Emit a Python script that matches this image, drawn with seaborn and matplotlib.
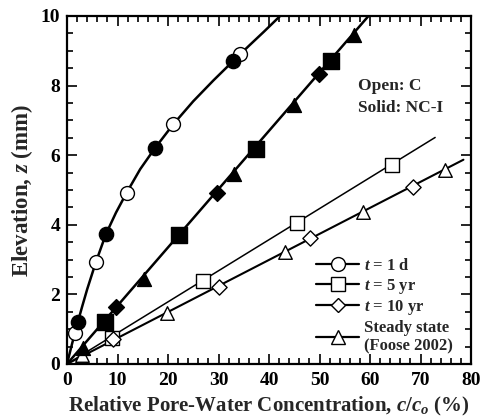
import numpy as np
import pandas as pd
import matplotlib
matplotlib.use("Agg")
import matplotlib.pyplot as plt
from matplotlib.lines import Line2D
from matplotlib.ticker import MultipleLocator
import seaborn as sns

sns.set_theme(style="ticks")
plt.rcParams['font.family'] = ['Liberation Serif', 'DejaVu Serif']
plt.rcParams['font.weight'] = 'bold'
plt.rcParams['mathtext.fontset'] = 'custom'
plt.rcParams['mathtext.it'] = 'Liberation Serif:italic:bold'
plt.rcParams['mathtext.rm'] = 'Liberation Serif:bold'
plt.rcParams['mathtext.bf'] = 'Liberation Serif:bold'

# ---- data ----
# Open symbols: C ; Solid symbols: NC-I
d1_open_x = [1.6, 5.7, 11.8, 21.05, 34.3]
d1_open_y = [0.88, 2.92, 4.92, 6.90, 8.90]
d1_solid_x = [2.1, 7.7, 17.4, 32.8]
d1_solid_y = [1.21, 3.73, 6.22, 8.72]

yr5_open_x = [8.9, 27.0, 45.5, 64.3]
yr5_open_y = [0.75, 2.39, 4.05, 5.72]
yr5_solid_x = [7.6, 22.2, 37.4, 52.3]
yr5_solid_y = [1.22, 3.71, 6.18, 8.72]

yr10_open_x = [9.2, 30.0, 48.2, 68.5]
yr10_open_y = [0.73, 2.21, 3.62, 5.10]
yr10_solid_x = [9.7, 29.7, 49.9]
yr10_solid_y = [1.64, 4.91, 8.33]

ss_open_x = [3.0, 19.8, 43.2, 58.7, 74.9]
ss_open_y = [0.27, 1.46, 3.21, 4.38, 5.58]
ss_solid_x = [3.1, 15.2, 33.0, 44.9, 56.9]
ss_solid_y = [0.46, 2.44, 5.46, 7.44, 9.45]

# model curves
curve1_x = [0, 1, 2, 3, 4, 5.7, 7.7, 9.7, 11.8, 14.5, 17.4, 21, 25, 29, 33, 36, 39, 42.2]
curve1_y = [0, 0.58, 1.13, 1.65, 2.15, 2.92, 3.73, 4.35, 4.92, 5.6, 6.2, 6.88, 7.55, 8.15, 8.72, 9.14, 9.55, 10.0]
curve_nc_x = [0, 59.7]
curve_nc_y = [0, 10.0]
curve_c5_x = [0, 72.9]
curve_c5_y = [0, 6.51]
curve_c10_x = [0, 78.5]
curve_c10_y = [0, 5.87]

x_ticks = [0, 10, 20, 30, 40, 50, 60, 70, 80]
y_ticks = [0, 2, 4, 6, 8, 10]

fig = plt.figure(figsize=(4.83, 4.17), dpi=100)
ax = fig.add_axes([67/483, 53/417, 404/483, 348/417])

def line(x, y, lw):
    sns.lineplot(x=x, y=y, ax=ax, sort=False, estimator=None, color='black',
                 linewidth=lw, zorder=2)

line(curve1_x, curve1_y, 1.8)
line(curve_nc_x, curve_nc_y, 1.8)
line(curve_c5_x, curve_c5_y, 1.1)
line(curve_c10_x, curve_c10_y, 1.5)

def pts(x, y, marker, size, filled):
    sns.scatterplot(x=x, y=y, ax=ax, marker=marker, s=size,
                    facecolor='black' if filled else 'white',
                    edgecolor='black', linewidth=1.0, zorder=4 if filled else 3)

pts(d1_open_x, d1_open_y, 'o', 100, False)
pts(d1_solid_x, d1_solid_y, 'o', 105, True)
pts(yr5_open_x, yr5_open_y, 's', 95, False)
pts(yr5_solid_x, yr5_solid_y, 's', 125, True)
pts(yr10_open_x, yr10_open_y, 'D', 60, False)
pts(yr10_solid_x, yr10_solid_y, 'D', 65, True)
pts(ss_open_x, ss_open_y, '^', 95, False)
pts(ss_solid_x, ss_solid_y, '^', 100, True)

ax.set_xlim(0, 80)
ax.set_ylim(0, 10)
ax.set_xticks(x_ticks)
ax.set_yticks(y_ticks)
ax.xaxis.set_minor_locator(MultipleLocator(2))
ax.yaxis.set_minor_locator(MultipleLocator(0.5))
ax.tick_params(which='both', direction='in', top=True, right=True, width=1.2,
               labelsize=14, colors='black')
ax.tick_params(axis='x', which='major', pad=6)
ax.tick_params(axis='y', which='major', pad=5)
ax.tick_params(which='major', length=7)
ax.tick_params(which='minor', length=4)
for s in ax.spines.values():
    s.set_linewidth(1.6)
    s.set_color('black')
for lab in ax.get_xticklabels() + ax.get_yticklabels():
    lab.set_fontweight('bold')

ax.set_xlabel('Relative Pore-Water Concentration, $c/c_o$ (%)', fontsize=15,
              fontweight='bold', labelpad=4)
ax.set_ylabel('Elevation, $z$ (mm)', fontsize=16.5, fontweight='bold', labelpad=4)

ax.text(57.6, 8.0, 'Open: C', fontsize=12.5, fontweight='bold', va='center')
ax.text(57.6, 7.37, 'Solid: NC-I', fontsize=12.5, fontweight='bold', va='center')

handles = [
    Line2D([], [], color='black', lw=1.6, marker='o', ms=10, mfc='white', mec='black'),
    Line2D([], [], color='black', lw=1.6, marker='s', ms=10, mfc='white', mec='black'),
    Line2D([], [], color='black', lw=1.6, marker='D', ms=7.5, mfc='white', mec='black'),
    Line2D([], [], color='black', lw=1.6, marker='^', ms=10, mfc='white', mec='black'),
]
labels = ['$t$ = 1 d', '$t$ = 5 yr', '$t$ = 10 yr', 'Steady state\n(Foose 2002)']
leg = ax.legend(handles, labels, loc='lower right', bbox_to_anchor=(0.985, -0.005),
                frameon=False, fontsize=12, handlelength=2.6, handletextpad=0.3,
                labelspacing=0.15, borderpad=0.2)
for t in leg.get_texts():
    t.set_fontweight('bold')

fig.savefig('out.png', dpi=100)
